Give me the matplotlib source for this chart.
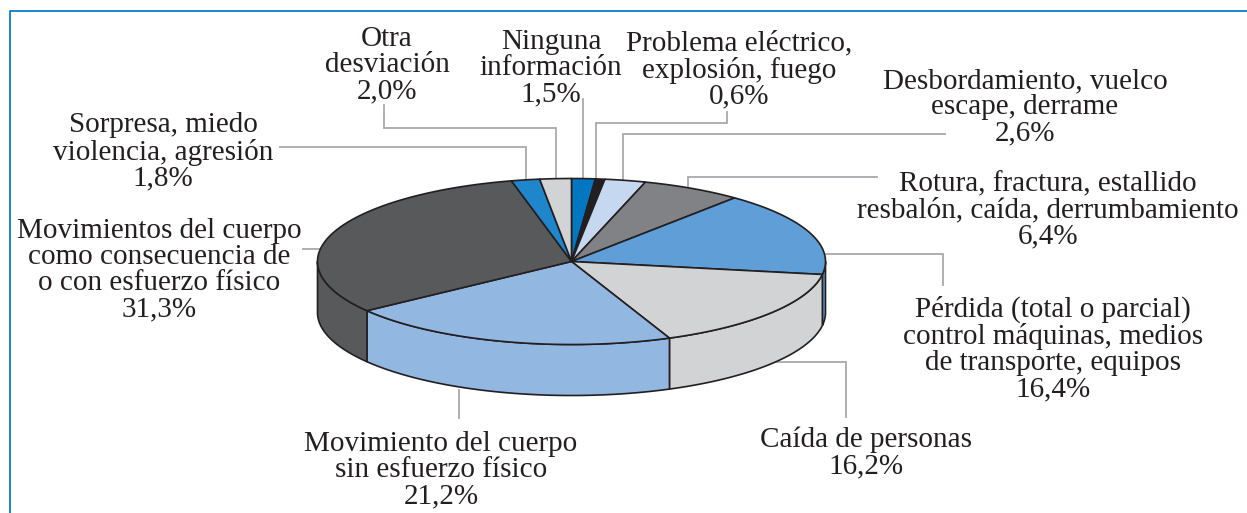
"""Siniestros por tipo de desviación: tarta en perspectiva"""

import numpy as np
import matplotlib

matplotlib.use("Agg")
import matplotlib.pyplot as plt
from matplotlib.patches import Polygon

WIDTH, HEIGHT = 1247, 513

# en sentido horario desde las 12
values = [1.5, 0.6, 2.6, 6.4, 16.4, 16.2, 21.2, 31.3, 1.8, 2.0]
colors = [
    "#0077C0", "#231F20", "#C5D8F0", "#808285", "#5F9ED6",
    "#D1D3D4", "#92B7E0", "#58595B", "#1F86CB", "#D1D3D4",
]
labels = [
    "Ninguna\ninformación\n1,5%",
    "Problema eléctrico,\nexplosión, fuego\n0,6%",
    "Desbordamiento, vuelco\nescape, derrame\n2,6%",
    "Rotura, fractura, estallido\nresbalón, caída, derrumbamiento\n6,4%",
    "Pérdida (total o parcial)\ncontrol máquinas, medios\nde transporte, equipos\n16,4%",
    "Caída de personas\n16,2%",
    "Movimiento del cuerpo\nsin esfuerzo físico\n21,2%",
    "Movimientos del cuerpo\ncomo consecuencia de\no con esfuerzo físico\n31,3%",
    "Sorpresa, miedo\nviolencia, agresión\n1,8%",
    "Otra\ndesviación\n2,0%",
]
label_pos = [
    (551, 68), (739, 70), (1025, 107), (1048, 210), (1053, 349),
    (866, 453), (441, 470), (159, 270), (163, 152), (387, 65),
]
leaders = [
    [(583, 99), (583, 178)],
    [(727, 112), (727, 123), (596, 123), (596, 178)],
    [(945, 134), (623, 134), (623, 179)],
    [(877, 177), (688, 177), (688, 186)],
    [(826, 254), (943, 254), (943, 285)],
    [(775, 362), (846, 362), (846, 417)],
    [(459, 390), (459, 418)],
    [(303, 249), (320, 249)],
    [(280, 147), (526, 147), (526, 180)],
    [(384, 105), (384, 128), (556, 128), (556, 178)],
]

CX, CY = 571.5, 261.5
RX, RY = 254, 83
DEPTH = 51
EDGE = "#231F20"
LEADER = "#A7A9AC"
FRAME = "#0A7CC4"


def rim(angles):
    """ángulo horario desde las 12 -> píxeles sobre la elipse"""
    return CX + RX * np.sin(angles), CY - RY * np.cos(angles)


plt.rcParams["font.family"] = ["Liberation Serif", "DejaVu Serif"]

fig = plt.figure(figsize=(WIDTH / 100, HEIGHT / 100), dpi=100)
ax = fig.add_axes([0, 0, 1, 1])
ax.set_xlim(0, WIDTH)
ax.set_ylim(HEIGHT, 0)
ax.axis("off")

# marco
ax.plot([9.5, 9.5, WIDTH], [HEIGHT, 10.5, 10.5], color=FRAME, lw=1.3, zorder=1)

for pts in leaders:
    xs, ys = zip(*pts)
    ax.plot(xs, ys, color=LEADER, lw=1.3, zorder=2, solid_joinstyle="miter")

edges = np.radians(np.cumsum([0] + values) * 3.6)

# pared lateral: solo la mitad delantera (90-270 grados)
lo, hi = np.pi / 2, 3 * np.pi / 2
for a0, a1, color in zip(edges[:-1], edges[1:], colors):
    s0, s1 = max(a0, lo), min(a1, hi)
    if s1 <= s0:
        continue
    t = np.linspace(s0, s1, 120)
    x, y = rim(t)
    poly = np.vstack([
        np.column_stack([x, y]),
        np.column_stack([x[::-1], y[::-1] + DEPTH]),
    ])
    ax.add_patch(Polygon(poly, closed=True, fc=color, ec=EDGE, lw=1.2, zorder=3))

# cara superior
for a0, a1, color in zip(edges[:-1], edges[1:], colors):
    t = np.linspace(a0, a1, 200)
    x, y = rim(t)
    poly = np.vstack([[CX, CY], np.column_stack([x, y])])
    ax.add_patch(Polygon(poly, closed=True, fc=color, ec=EDGE, lw=1.2,
                         joinstyle="round", zorder=4))

for text, (tx, ty) in zip(labels, label_pos):
    ax.text(tx, ty, text, ha="center", va="center", fontsize=21,
            linespacing=1.0, color="#231F20", zorder=5)

fig.savefig("out.png", dpi=100)
plt.close(fig)
